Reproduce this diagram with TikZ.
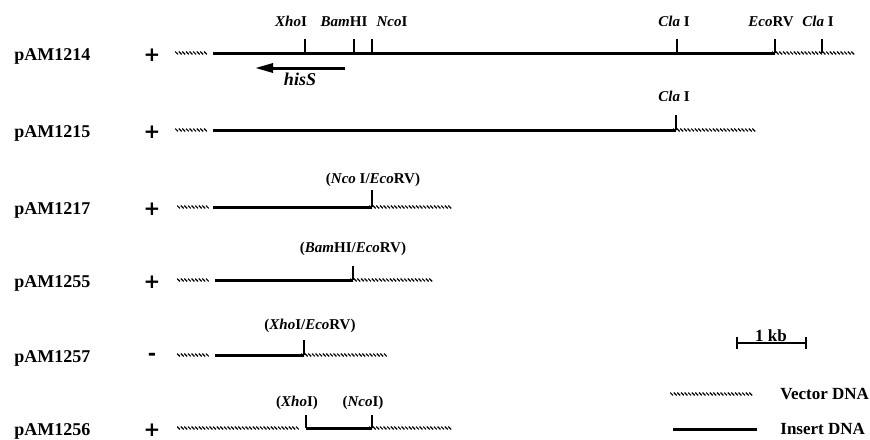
\documentclass[tikz,border=0pt]{standalone}
\usepackage{fontspec}
\setmainfont{Liberation Serif}
\newfontfamily\signfont{DejaVu Sans}
\usetikzlibrary{calc, positioning}
\usetikzlibrary{arrows.meta}
\usetikzlibrary{decorations.pathreplacing}

\newcommand{\enzyme}[2]{\textit{#1}#2}

\tikzset{
  vector/.style={line width=0.6pt, decorate,
    decoration={border, amplitude=2pt, segment length=1.8pt, angle=135, raise=-0.7pt}},
  insert/.style={line width=1.5pt},
  cut/.style={line width=1pt},
  site/.style={font=\fontsize{7.5}{9}\selectfont\bfseries, anchor=base, inner sep=0pt},
  plabel/.style={font=\fontsize{9}{11}\selectfont\bfseries, anchor=west, inner sep=0pt},
  growth/.style={font=\fontsize{10}{10}\signfont\bfseries, inner sep=0pt},
  legend/.style={font=\fontsize{8.5}{10}\selectfont\bfseries, anchor=west, inner sep=0pt},
}

\begin{document}
\begin{tikzpicture}[x=0.5pt, y=-0.5pt]
\useasboundingbox (0,0) rectangle (870,439);

% plasmids and growth
\foreach \name/\sign/\y in {pAM1214/+/53, pAM1215/+/130, pAM1217/+/207,
                           pAM1255/+/280, pAM1257/-/355, pAM1256/+/428} {
  \node[plabel] (\name) at (14,\y+3) {\name};
  \node[growth] (g\name) at (152,\y+2) {\sign};
}

% pAM1214
\draw[vector] (178,53) -- (213,53);
\draw[insert] (213,53) -- (775,53);
\draw[vector] (775,53) -- (860,53);
\foreach \x in {305,354,372,677,775,822}
  \draw[cut] (\x,53) -- (\x,39);
\node[site] (xhoA) at (291,26) {\enzyme{Xho}{I}};
\node[site] (bamA) at (344,26) {\enzyme{Bam}{HI}};
\node[site] (ncoA) at (392,26) {\enzyme{Nco}{I}};
\node[site] (claA) at (674,26) {\enzyme{Cla}{ I}};
\node[site] (ecoA) at (771,26) {\enzyme{Eco}{RV}};
\node[site] (clbA) at (818,26) {\enzyme{Cla}{ I}};

\coordinate (hisR) at (345,68);
\coordinate (hisL) at (255,68);
\draw[insert, -{Triangle[length=9pt, width=4.5pt]}] (hisR) -- (hisL);
\node[site, font=\fontsize{9}{11}\selectfont\bfseries\itshape] (hisS) at (300,85) {hisS};

% pAM1215
\draw[vector] (178,130) -- (213,130);
\draw[insert] (213,130) -- (676,130);
\draw[vector] (676,130) -- (762,130);
\draw[cut] (676,130) -- (676,115);
\node[site] (claB) at (674,101) {\enzyme{Cla}{ I}};

% pAM1217
\draw[vector] (180,207) -- (213,207);
\draw[insert] (213,207) -- (372,207);
\draw[vector] (372,207) -- (458,207);
\draw[cut] (372,207) -- (372,190);
\node[site] (ncoC) at (373,183) {(\enzyme{Nco}{ I/}\enzyme{Eco}{RV})};

% pAM1255
\draw[vector] (180,280) -- (215,280);
\draw[insert] (215,280) -- (353,280);
\draw[vector] (353,280) -- (438,280);
\draw[cut] (353,280) -- (353,266);
\node[site] (bamD) at (353,252) {(\enzyme{Bam}{HI/}\enzyme{Eco}{RV})};

% pAM1257
\draw[vector] (180,355) -- (215,355);
\draw[insert] (215,355) -- (304,355);
\draw[vector] (304,355) -- (392,355);
\draw[cut] (304,355) -- (304,340);
\node[site] (xhoE) at (310,329) {(\enzyme{Xho}{I/}\enzyme{Eco}{RV})};

% pAM1256
\draw[vector] (180,428) -- (306,428);
\draw[insert] (306,428) -- (372,428);
\draw[vector] (372,428) -- (458,428);
\draw[cut] (306,428) -- (306,415);
\draw[cut] (372,428) -- (372,415);
\node[site] (xhoF) at (297,406) {(\enzyme{Xho}{I})};
\node[site] (ncoF) at (363,406) {(\enzyme{Nco}{I})};

% scale bar
\coordinate (kbL) at (737,343);
\coordinate (kbR) at (806,343);
\draw[cut] (kbL) -- (kbR);
\draw[cut] ($(kbL)+(0,-6)$) -- ($(kbL)+(0,6)$);
\draw[cut] ($(kbR)+(0,-6)$) -- ($(kbR)+(0,6)$);
\node[site, font=\fontsize{8.5}{10}\selectfont\bfseries] (kb) at (771,341) {1 kb};

% legend
\draw[vector] (673,394) -- (757,394);
\node[legend] (vec) at (780,394) {Vector DNA};
\draw[insert] (673,429) -- (757,429);
\node[legend] (ins) at (780,429) {Insert DNA};
\end{tikzpicture}
\end{document}
